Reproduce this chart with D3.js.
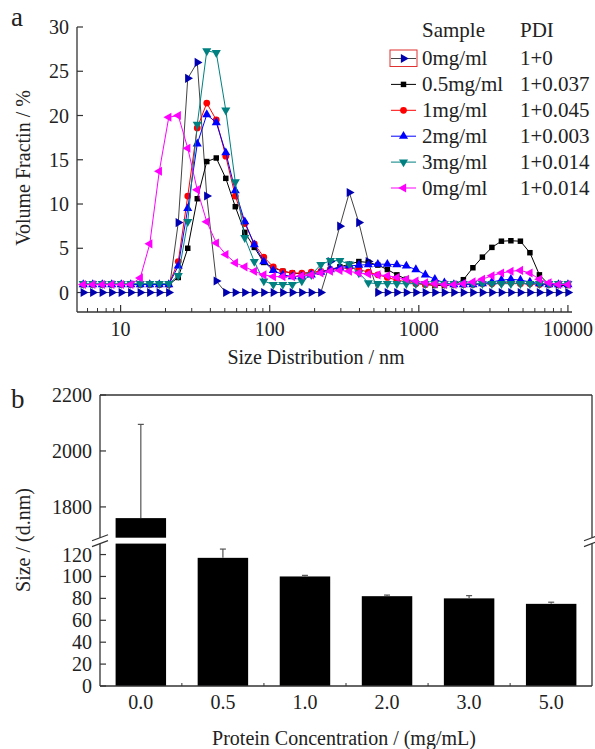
<!DOCTYPE html>
<html>
<head>
<meta charset="utf-8">
<script src="https://cdn.jsdelivr.net/npm/d3@7"></script>
<style>
  body { margin: 0; background: #fff; }
  text { font-family: "Liberation Serif", "Times New Roman", serif; fill: #222; }
</style>
</head>
<body>
<script>
// --- data: panel a (DLS size distribution, volume %) ---
const sizes = [5.615, 6.503, 7.531, 8.721, 10.1, 11.7, 13.54, 15.69, 18.17, 21.04,
  24.36, 28.21, 32.67, 37.84, 43.82, 50.75, 58.77, 68.06, 78.82, 91.28,
  105.7, 122.4, 141.8, 164.2, 190.1, 220.2, 255.0, 295.3, 342.0, 396.1,
  458.7, 531.2, 615.1, 712.4, 825.0, 955.4, 1106, 1281, 1484, 1718,
  1990, 2305, 2669, 3091, 3580, 4145, 4801, 5560, 6439, 7456, 8635, 10000];

const sampleNames = ["0mg/ml", "0.5mg/ml", "1mg/ml", "2mg/ml", "3mg/ml", "0mg/ml"];
const pdiLabels = ["1+0", "1+0.037", "1+0.045", "1+0.003", "1+0.014", "1+0.014"];

const vol0 = [0, 0, 0, 0, 0, 0, 0, 0, 0, 0,
  7.9, 24.2, 26.0, 10.9, 1.3, 0, 0, 0, 0, 0,
  0, 0, 0, 0, 0, 0, 3.5, 7.5, 11.3, 7.9,
  3.5, 0, 0, 0, 0, 0, 0, 0, 0, 0,
  0, 0, 0, 0, 0, 0, 0, 0, 0, 0, 0, 0];
const vol05 = [0.9, 0.9, 0.9, 0.9, 0.9, 0.9, 0.9, 0.9, 0.9, 0.9,
  1.7, 5.0, 10.6, 14.8, 15.2, 12.9, 9.7, 6.8, 5.1, 3.4,
  2.8, 2.4, 2.2, 2.1, 2.1, 2.3, 2.6, 2.9, 3.2, 3.5,
  3.4, 3.1, 2.6, 2.0, 1.5, 1.1, 0.9, 0.8, 0.8, 0.9,
  1.45, 2.8, 4.0, 5.1, 5.8, 5.85, 5.8, 4.5, 2.0, 0.9, 0.8, 0.8];
const vol1 = [0.9, 0.9, 0.9, 0.9, 0.9, 0.9, 0.9, 0.9, 0.9, 0.9,
  3.5, 10.9, 18.6, 21.4, 19.5, 15.4, 10.9, 7.8, 5.5, 4.0,
  2.9, 2.4, 2.2, 2.2, 2.3, 2.4, 2.6, 2.7, 2.8, 2.6,
  2.3, 2.0, 1.7, 1.4, 1.2, 1.0, 0.9, 0.9, 0.9, 0.9,
  0.9, 0.9, 1.0, 1.0, 1.1, 1.1, 1.0, 1.0, 0.9, 0.9, 0.9, 0.9];
const vol2 = [0.9, 0.9, 0.9, 0.9, 0.9, 0.9, 0.9, 0.9, 0.9, 0.9,
  3.0, 9.5, 16.8, 20.1, 19.2, 15.8, 11.5, 8.0, 5.4, 3.5,
  2.5, 2.0, 1.8, 1.8, 2.0, 2.3, 2.6, 2.8, 3.0, 3.1,
  3.15, 3.2, 3.2, 3.15, 3.0, 2.6, 2.0, 1.5, 1.1, 0.9,
  0.9, 0.9, 1.0, 1.2, 1.4, 1.5, 1.4, 1.2, 1.0, 0.9, 0.9, 0.9];
const vol3 = [1.0, 1.0, 1.0, 1.0, 1.0, 1.0, 1.0, 1.0, 1.0, 1.0,
  1.9, 8.0, 19.0, 27.3, 27.1, 20.6, 12.5, 6.2, 3.5, 1.3,
  0.9, 0.9, 0.9, 1.3, 2.0, 3.15, 3.6, 3.6, 3.2, 2.2,
  1.1, 1.0, 1.0, 1.0, 1.0, 1.0, 1.0, 1.0, 1.0, 1.0,
  1.0, 1.0, 1.0, 1.0, 1.0, 1.0, 1.0, 1.0, 1.0, 1.0, 1.0, 1.0];
const vol0b = [0.9, 0.9, 0.9, 0.9, 0.9, 0.9, 1.65, 5.5, 13.7, 19.8,
  20.0, 16.3, 11.6, 8.0, 5.6, 4.3, 3.35, 2.9, 2.4, 2.0,
  1.8, 1.8, 1.8, 1.9, 2.0, 2.2, 2.4, 2.5, 2.4, 2.2,
  2.1, 2.0, 1.9, 1.7, 1.5, 1.3, 1.1, 1.0, 0.9, 0.9,
  1.0, 1.2, 1.5, 1.9, 2.2, 2.4, 2.5, 2.2, 1.5, 1.1, 0.9, 0.9];

const volTicks = [0, 5, 10, 15, 20, 25, 30];
const sizeTicks = [10, 100, 1000, 10000];

// --- data: panel b (mean size vs protein concentration) ---
const concLabels = ["0.0", "0.5", "1.0", "2.0", "3.0", "5.0"];
const meanSize = [1760, 117, 100, 82, 80, 75];
const sizeErr = [335, 8, 1, 1, 2.5, 1.5];
const lowTicks = [0, 20, 40, 60, 80, 100, 120];
const highTicks = [1800, 2000, 2200];

const W = 595, H = 749;
const svg = d3.select("body").append("svg").attr("width", W).attr("height", H);
const axisColor = "#333";

// ================= panel a =================
const x = d3.scaleLog().domain([5.1, 10650]).range([77, 572]);
const y = d3.scaleLinear().domain([-2.2, 30]).range([312, 27]);

const styles = [
  {data: vol0, line: "#444", fill: "#0000b0", shape: d3.symbolTriangle, rot: 90, size: 36},
  {data: vol05, line: "#000", fill: "#000", shape: d3.symbolSquare, rot: 0, size: 30},
  {data: vol1, line: "#ff0000", fill: "#ff0000", shape: d3.symbolCircle, rot: 0, size: 36},
  {data: vol2, line: "#0000ff", fill: "#0000ff", shape: d3.symbolTriangle, rot: 0, size: 36},
  {data: vol3, line: "#008080", fill: "#008080", shape: d3.symbolTriangle, rot: 180, size: 36},
  {data: vol0b, line: "#ff00ff", fill: "#ff00ff", shape: d3.symbolTriangle, rot: -90, size: 36}
];

const gA = svg.append("g");

// axes
gA.append("line").attr("x1", 77).attr("x2", 77).attr("y1", y(30)).attr("y2", 312)
  .attr("stroke", axisColor).attr("stroke-width", 1.3);
gA.append("line").attr("x1", 77).attr("x2", 572).attr("y1", 312).attr("y2", 312)
  .attr("stroke", axisColor).attr("stroke-width", 1.3);

volTicks.forEach(t => {
  gA.append("line").attr("x1", 77).attr("x2", 83).attr("y1", y(t)).attr("y2", y(t))
    .attr("stroke", axisColor).attr("stroke-width", 1.2);
  gA.append("text").attr("x", 69).attr("y", y(t) + 7).attr("text-anchor", "end")
    .attr("font-size", 20).text(t);
});

// log ticks: majors + minors
const minor = [];
[1, 10, 100, 1000].forEach(d => [2, 3, 4, 5, 6, 7, 8, 9].forEach(m => minor.push(d * m)));
minor.filter(v => v >= 5.1).forEach(v => {
  gA.append("line").attr("x1", x(v)).attr("x2", x(v)).attr("y1", 312).attr("y2", 308)
    .attr("stroke", axisColor).attr("stroke-width", 1);
});
sizeTicks.forEach(t => {
  gA.append("line").attr("x1", x(t)).attr("x2", x(t)).attr("y1", 312).attr("y2", 305)
    .attr("stroke", axisColor).attr("stroke-width", 1.2);
  gA.append("text").attr("x", x(t)).attr("y", 336).attr("text-anchor", "middle")
    .attr("font-size", 20).text(t);
});

// series
const line = d3.line().x((d, i) => x(sizes[i])).y(d => y(d));
styles.forEach(s => {
  gA.append("path").datum(s.data).attr("d", line)
    .attr("fill", "none").attr("stroke", s.line).attr("stroke-width", 1);
  const sym = d3.symbol().type(s.shape).size(s.size);
  gA.append("g").selectAll("path").data(s.data).join("path")
    .attr("d", sym)
    .attr("transform", (d, i) => `translate(${x(sizes[i])},${y(d)}) rotate(${s.rot})`)
    .attr("fill", s.fill);
});

// legend
gA.append("text").attr("x", 422).attr("y", 37).attr("font-size", 21).text("Sample");
gA.append("text").attr("x", 520).attr("y", 37).attr("font-size", 21).text("PDI");
styles.forEach((s, i) => {
  const cy = 58.5 + i * 25.9;
  gA.append("line").attr("x1", 391).attr("x2", 416).attr("y1", cy).attr("y2", cy)
    .attr("stroke", s.line).attr("stroke-width", 1);
  gA.append("path").attr("d", d3.symbol().type(s.shape).size(s.size)())
    .attr("transform", `translate(403.5,${cy}) rotate(${s.rot})`).attr("fill", s.fill);
  gA.append("text").attr("x", 422).attr("y", cy + 6.5).attr("font-size", 21).text(sampleNames[i]);
  gA.append("text").attr("x", 520).attr("y", cy + 6.5).attr("font-size", 21).text(pdiLabels[i]);
});
gA.append("rect").attr("x", 390).attr("y", 50).attr("width", 27).attr("height", 16.5)
  .attr("fill", "none").attr("stroke", "#e03030").attr("stroke-width", 1);

gA.append("text").attr("x", 316).attr("y", 364).attr("text-anchor", "middle")
  .attr("font-size", 20).text("Size Distribution / nm");
gA.append("text").attr("transform", "translate(30,168) rotate(-90)").attr("text-anchor", "middle")
  .attr("font-size", 20).text("Volume Fractin / %");
gA.append("text").attr("x", 11).attr("y", 26).attr("font-size", 27).text("a");

// ================= panel b =================
const xb = d3.scaleBand().domain(concLabels).range([100, 592])
  .paddingInner(0.385).paddingOuter(0.19);
const yLow = d3.scaleLinear().domain([0, 130]).range([686, 543.6]);
const yHigh = d3.scaleLinear().domain([1690, 2200]).range([537.7, 395]);
const gB = svg.append("g");

// bars
concLabels.forEach((c, i) => {
  const v = meanSize[i], e = sizeErr[i];
  const bx = xb(c), bw = xb.bandwidth(), cx = bx + bw / 2;
  let errBase, errTop;
  if (v <= 130) {
    gB.append("rect").attr("x", bx).attr("y", yLow(v)).attr("width", bw)
      .attr("height", 686 - yLow(v)).attr("fill", "#000");
    errBase = yLow(v); errTop = yLow(v + e);
  } else {
    gB.append("rect").attr("x", bx).attr("y", yLow(130)).attr("width", bw)
      .attr("height", 686 - yLow(130)).attr("fill", "#000");
    gB.append("rect").attr("x", bx).attr("y", yHigh(v)).attr("width", bw)
      .attr("height", yHigh(1690) - yHigh(v)).attr("fill", "#000");
    errBase = yHigh(v); errTop = yHigh(v + e);
  }
  gB.append("line").attr("x1", cx).attr("x2", cx).attr("y1", errBase).attr("y2", errTop)
    .attr("stroke", "#555").attr("stroke-width", 1.2);
  gB.append("line").attr("x1", cx - 3).attr("x2", cx + 3).attr("y1", errTop).attr("y2", errTop)
    .attr("stroke", "#555").attr("stroke-width", 1.2);
});

// frame with broken y axis
const frame = [
  [100, yHigh(2200), 592, yHigh(2200)],
  [100, 686, 592, 686],
  [100, yHigh(2200), 100, yHigh(1690)],
  [100, yLow(130), 100, 686],
  [592, yHigh(2200), 592, yHigh(1690)],
  [592, yLow(130), 592, 686]
];
frame.forEach(f => gB.append("line").attr("x1", f[0]).attr("y1", f[1]).attr("x2", f[2]).attr("y2", f[3])
  .attr("stroke", axisColor).attr("stroke-width", 1.3));
[100, 592].forEach(ax => {
  [yHigh(1690), yLow(130)].forEach(by => {
    gB.append("line").attr("x1", ax - 8).attr("x2", ax + 8).attr("y1", by + 3).attr("y2", by - 3)
      .attr("stroke", axisColor).attr("stroke-width", 1.2);
  });
});

lowTicks.forEach(t => {
  gB.append("line").attr("x1", 100).attr("x2", 106).attr("y1", yLow(t)).attr("y2", yLow(t))
    .attr("stroke", axisColor).attr("stroke-width", 1.2);
  gB.append("text").attr("x", 92).attr("y", yLow(t) + 7).attr("text-anchor", "end")
    .attr("font-size", 20).text(t);
});
highTicks.forEach(t => {
  gB.append("line").attr("x1", 100).attr("x2", 106).attr("y1", yHigh(t)).attr("y2", yHigh(t))
    .attr("stroke", axisColor).attr("stroke-width", 1.2);
  gB.append("text").attr("x", 92).attr("y", yHigh(t) + 7).attr("text-anchor", "end")
    .attr("font-size", 20).text(t);
});

// small ticks between categories + labels
concLabels.forEach((c, i) => {
  if (i > 0) {
    const bx = xb(c) - xb.step() * xb.paddingInner() / 2;
    gB.append("line").attr("x1", bx).attr("x2", bx).attr("y1", 686).attr("y2", 683)
      .attr("stroke", axisColor).attr("stroke-width", 1);
  }
  gB.append("text").attr("x", xb(c) + xb.bandwidth() / 2).attr("y", 709)
    .attr("text-anchor", "middle").attr("font-size", 20).text(c);
});

gB.append("text").attr("x", 344).attr("y", 745).attr("text-anchor", "middle")
  .attr("font-size", 20).text("Protein Concentration / (mg/mL)");
gB.append("text").attr("transform", "translate(30,540) rotate(-90)").attr("text-anchor", "middle")
  .attr("font-size", 20).text("Size / (d.nm)");
gB.append("text").attr("x", 11).attr("y", 408).attr("font-size", 27).text("b");
</script>
</body>
</html>
